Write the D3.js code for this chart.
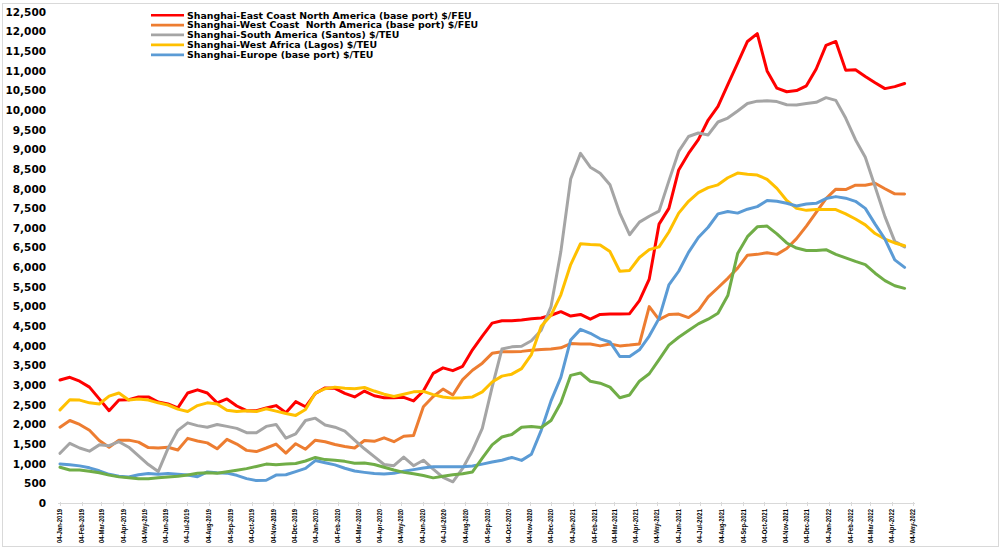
<!DOCTYPE html>
<html>
<head>
<meta charset="utf-8">
<script src="https://cdn.jsdelivr.net/npm/d3@7"></script>
<style>
html, body { margin: 0; padding: 0; background: #ffffff; }
svg { display: block; }
</style>
</head>
<body>
<svg id="chart" width="1002" height="549"></svg>
<script>
// ---------------- DATA ----------------
// Series are sampled every 14 days starting 04-Jan-2019 (87 points, last = 22-Apr-2022)
const firstDate = "2019-01-04";
const sampleStepDays = 14;

const eastCoastNA = [
  3130,3200,3100,2950,2650,2350,2620,2630,2700,2700,
  2570,2520,2420,2800,2880,2800,2550,2650,2470,2350,
  2350,2420,2480,2300,2580,2450,2790,2930,2920,2790,
  2700,2850,2730,2680,2680,2690,2600,2850,3300,3440,
  3370,3480,3900,4250,4580,4640,4640,4660,4690,4710,
  4780,4870,4760,4800,4680,4800,4810,4810,4820,5150,
  5700,7100,7500,8480,8900,9250,9750,10100,10650,11200,
  11750,11950,11000,10560,10470,10500,10620,11050,11650,11750,
  11020,11030,10860,10700,10550,10600,10680
];
const westCoastNA = [
  1930,2100,2000,1850,1590,1420,1600,1600,1550,1410,
  1400,1420,1350,1645,1580,1530,1380,1620,1500,1340,
  1310,1400,1500,1270,1510,1370,1600,1560,1490,1440,
  1400,1590,1570,1660,1560,1700,1720,2450,2710,2900,
  2750,3140,3380,3560,3810,3850,3850,3860,3890,3910,
  3920,3950,4060,4050,4050,4000,4050,4000,4020,4050,
  5000,4670,4800,4810,4720,4900,5250,5480,5720,5980,
  6310,6330,6370,6330,6480,6730,7050,7400,7750,7990,
  7980,8090,8090,8140,8000,7870,7865
];
const southAmerica = [
  1265,1520,1400,1320,1480,1460,1560,1420,1200,980,
  800,1390,1850,2040,1970,1930,2000,1950,1900,1790,
  1790,1950,2000,1650,1760,2100,2160,1985,1930,1830,
  1600,1380,1180,980,950,1170,950,1090,860,650,
  540,880,1340,1900,2950,3920,3975,3990,4130,4400,
  5000,6400,8250,8900,8550,8395,8100,7380,6830,7150,
  7300,7430,8200,8950,9330,9420,9370,9700,9800,9980,
  10170,10230,10240,10220,10140,10135,10170,10200,10320,10250,
  9800,9250,8800,8050,7290,6660,6520
];
const westAfrica = [
  2370,2630,2620,2550,2520,2720,2800,2620,2650,2620,
  2550,2495,2390,2330,2480,2550,2520,2360,2330,2350,
  2330,2400,2340,2280,2230,2380,2800,2910,2950,2920,
  2910,2940,2850,2770,2710,2770,2830,2840,2760,2700,
  2670,2680,2700,2830,3080,3230,3280,3420,3780,4500,
  4780,5300,6070,6600,6580,6570,6400,5900,5920,6250,
  6450,6520,6900,7380,7680,7900,8030,8100,8280,8400,
  8370,8350,8240,8010,7700,7500,7450,7470,7475,7470,
  7360,7230,7080,6860,6720,6620,6550
];
const europe = [
  995,975,945,895,820,730,680,660,720,750,
  730,750,735,715,670,790,770,760,705,620,
  570,580,710,720,800,880,1080,1025,970,885,
  815,780,750,740,755,810,850,890,925,925,
  925,925,940,990,1045,1090,1160,1085,1240,1850,
  2600,3200,4150,4420,4320,4180,4100,3730,3730,3900,
  4250,4700,5550,5900,6380,6760,7020,7360,7420,7380,
  7480,7545,7700,7680,7630,7560,7610,7630,7750,7800,
  7760,7680,7500,7100,6720,6190,6000
];
const sixthSeries = [
  910,840,840,810,770,710,665,640,615,615,
  640,660,680,715,755,770,760,795,835,875,
  930,990,975,990,1005,1070,1160,1105,1090,1060,
  1010,1020,980,910,840,780,745,700,640,680,
  720,745,790,1140,1480,1680,1745,1930,1950,1920,
  2100,2550,3250,3310,3100,3050,2950,2680,2750,3100,
  3290,3650,4020,4220,4390,4560,4680,4830,5280,6350,
  6780,7030,7050,6850,6620,6490,6430,6430,6450,6330,
  6240,6150,6070,5850,5660,5530,5465
];

const seriesNames = [
  "Shanghai-East Coast North America (base port) $/FEU",
  "Shanghai-West Coast  North America (base port) $/FEU",
  "Shanghai-South America (Santos) $/TEU",
  "Shanghai-West Africa (Lagos) $/TEU",
  "Shanghai-Europe (base port) $/TEU",
  ""
];
const seriesValues = [eastCoastNA, westCoastNA, southAmerica, westAfrica, europe, sixthSeries];
const seriesColors = ["#ff0000", "#ed7d31", "#a5a5a5", "#ffc000", "#5b9bd5", "#70ad47"];
const legendCount = 5;

const yTickValues = [0,500,1000,1500,2000,2500,3000,3500,4000,4500,5000,5500,6000,
  6500,7000,7500,8000,8500,9000,9500,10000,10500,11000,11500,12000,12500];

const xTickLabels = [
  "04-Jan-2019","04-Feb-2019","04-Mar-2019","04-Apr-2019","04-May-2019","04-Jun-2019",
  "04-Jul-2019","04-Aug-2019","04-Sep-2019","04-Oct-2019","04-Nov-2019","04-Dec-2019",
  "04-Jan-2020","04-Feb-2020","04-Mar-2020","04-Apr-2020","04-May-2020","04-Jun-2020",
  "04-Jul-2020","04-Aug-2020","04-Sep-2020","04-Oct-2020","04-Nov-2020","04-Dec-2020",
  "04-Jan-2021","04-Feb-2021","04-Mar-2021","04-Apr-2021","04-May-2021","04-Jun-2021",
  "04-Jul-2021","04-Aug-2021","04-Sep-2021","04-Oct-2021","04-Nov-2021","04-Dec-2021",
  "04-Jan-2022","04-Feb-2022","04-Mar-2022","04-Apr-2022","04-May-2022"
];

// ---------------- DRAW ----------------
const svg = d3.select("#chart");
const parseTick = d3.timeParse("%d-%b-%Y");
const start = d3.timeParse("%Y-%m-%d")(firstDate);
const sampleDates = d3.range(eastCoastNA.length).map(i => d3.timeDay.offset(start, i * sampleStepDays));
const tickDates = xTickLabels.map(parseTick);

const x = d3.scaleTime()
  .domain([tickDates[0], tickDates[tickDates.length - 1]])
  .range([60, 913]);
const y = d3.scaleLinear().domain([0, 12500]).range([503, 12]);

// outer frame
svg.append("rect")
  .attr("x", 2.5).attr("y", 3.5).attr("width", 996).attr("height", 543)
  .attr("fill", "none").attr("stroke", "#d9d9d9").attr("stroke-width", 1);

// y tick labels
svg.append("g").selectAll("text").data(yTickValues).join("text")
  .attr("x", 46)
  .attr("y", d => y(d))
  .attr("dy", "0.36em")
  .attr("text-anchor", "end")
  .attr("font-family", "DejaVu Sans, Verdana, sans-serif")
  .attr("font-weight", "bold")
  .attr("font-size", "10.5px")
  .attr("fill", "#000")
  .text(d => d3.format(",")(d));

// x axis line + ticks
const axisG = svg.append("g");
axisG.append("line")
  .attr("x1", 58).attr("x2", 915)
  .attr("y1", y(0) + 0.5).attr("y2", y(0) + 0.5)
  .attr("stroke", "#d9d9d9").attr("stroke-width", 1);
axisG.selectAll("line.tick").data(tickDates).join("line")
  .attr("class", "tick")
  .attr("x1", d => Math.round(x(d)) + 0.5).attr("x2", d => Math.round(x(d)) + 0.5)
  .attr("y1", y(0) - 1).attr("y2", y(0) + 3)
  .attr("stroke", "#d9d9d9").attr("stroke-width", 1);
axisG.selectAll("text").data(tickDates).join("text")
  .attr("transform", (d) => `translate(${x(d) + 2.4},${y(0) + 6}) rotate(-90)`)
  .attr("text-anchor", "end")
  .attr("font-family", "Liberation Sans Narrow, Liberation Sans, Arial, sans-serif")
  .attr("font-weight", "bold")
  .attr("font-size", "6.6px")
  .attr("fill", "#000")
  .attr("textLength", 34)
  .attr("lengthAdjust", "spacingAndGlyphs")
  .text((d, i) => xTickLabels[i]);

// lines
const line = d3.line()
  .x((d, i) => x(sampleDates[i]))
  .y(d => y(d))
  .curve(d3.curveLinear);

svg.append("g").selectAll("path").data(seriesValues).join("path")
  .attr("d", d => line(d))
  .attr("fill", "none")
  .attr("stroke", (d, i) => seriesColors[i])
  .attr("stroke-width", 3)
  .attr("stroke-linejoin", "round")
  .attr("stroke-linecap", "round");

// legend
const legendRows = [15.3, 25.1, 34.9, 44.9, 54.9];
const legend = svg.append("g");
for (let i = 0; i < legendCount; i++) {
  legend.append("line")
    .attr("x1", 151).attr("x2", 184)
    .attr("y1", legendRows[i]).attr("y2", legendRows[i])
    .attr("stroke", seriesColors[i]).attr("stroke-width", 2.6);
}
const legendTexts = legend.selectAll("text").data(seriesNames.slice(0, legendCount)).join("text")
  .attr("x", 187)
  .attr("y", (d, i) => legendRows[i])
  .attr("dy", "0.35em")
  .attr("font-family", "DejaVu Sans, Verdana, sans-serif")
  .attr("font-weight", "bold")
  .attr("font-size", "9px")
  .attr("fill", "#000")
  .attr("xml:space", "preserve")
  .style("white-space", "pre")
  .text(d => d);
// fit font size so that first legend row spans the same width as the reference
const w0 = legendTexts.node().getComputedTextLength();
const fs = 9 * 285 / w0;
legendTexts.attr("font-size", fs + "px");
</script>
</body>
</html>
